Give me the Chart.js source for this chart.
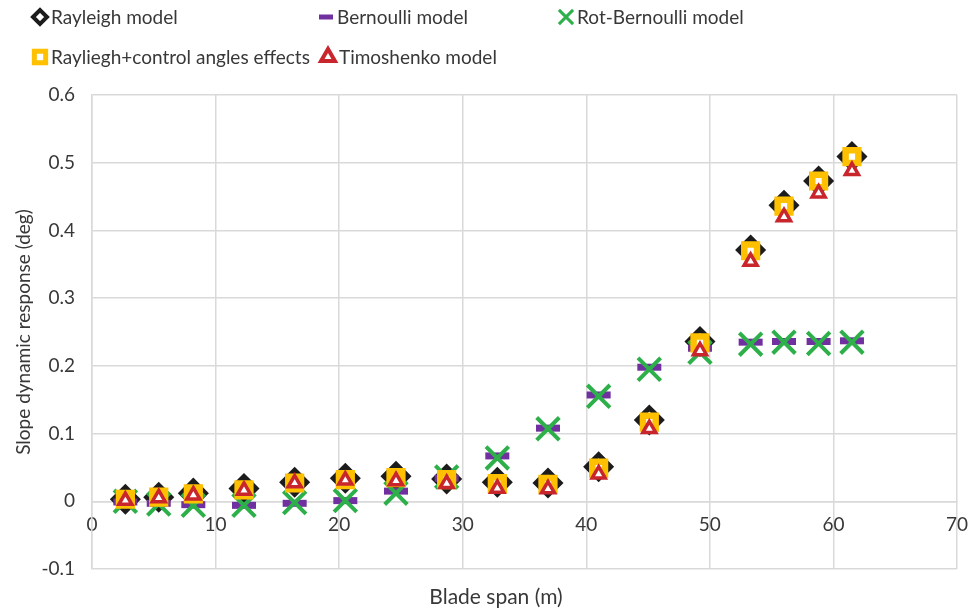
<!DOCTYPE html>
<html>
<head>
<meta charset="utf-8">
<script src="https://cdn.jsdelivr.net/npm/chart.js@4.4.1/dist/chart.umd.min.js"></script>
<style>
  body { margin: 0; background: #fff; }
  #wrap { width: 969px; height: 612px; }
</style>
</head>
<body>
<div id="wrap"><canvas id="chart_1" width="969" height="612"></canvas></div>
<script>
// blade span stations (m)
const span = [2.7, 5.4, 8.2, 12.3, 16.4, 20.5, 24.6, 28.7, 32.8, 36.9, 41.0, 45.1, 49.2, 53.3, 56.0, 58.8, 61.5];

// slope dynamic response (deg) for each model
const rayleigh = [0.003, 0.006, 0.012, 0.019, 0.028, 0.034, 0.037, 0.033, 0.028, 0.027, 0.051, 0.120, 0.236, 0.371, 0.437, 0.473, 0.509];
const bernoulli = [-0.001, -0.003, -0.005, -0.006, -0.003, 0.001, 0.015, 0.034, 0.067, 0.108, 0.157, 0.198, 0.226, 0.235, 0.236, 0.236, 0.237];
const rot_bernoulli = [0.000, -0.004, -0.006, -0.006, -0.002, 0.001, 0.012, 0.036, 0.064, 0.107, 0.155, 0.195, 0.220, 0.232, 0.235, 0.233, 0.235];
const rayleigh_control = [0.003, 0.006, 0.011, 0.017, 0.027, 0.032, 0.035, 0.032, 0.026, 0.025, 0.049, 0.117, 0.234, 0.370, 0.436, 0.473, 0.509];
const timoshenko = [0.001, 0.005, 0.009, 0.016, 0.027, 0.031, 0.030, 0.026, 0.019, 0.018, 0.040, 0.107, 0.222, 0.354, 0.420, 0.455, 0.488];

const series_labels = ["Rayleigh model", "Bernoulli model", "Rot-Bernoulli model", "Rayliegh+control angles effects", "Timoshenko model"];

const x_ticks = [0, 10, 20, 30, 40, 50, 60, 70];
const y_ticks = [-0.1, 0, 0.1, 0.2, 0.3, 0.4, 0.5, 0.6];

const font_family = "Lato, 'Noto Sans', sans-serif";
const text_color = "#383838";
const grid_color = "#d9d9d9";

function to_points(values) {
  return span.map((x, i) => ({x: x, y: values[i]}));
}

// marker look per series, used for plot and legend
const markers = [
  {pointStyle: "rectRot", radius: 12, borderWidth: 5, backgroundColor: "#ffffff", borderColor: "#1c1c1c"},
  {pointStyle: "line", radius: 12, borderWidth: 7, backgroundColor: "#7030a0", borderColor: "#7030a0"},
  {pointStyle: "crossRot", radius: 16, borderWidth: 4, backgroundColor: "#2db04a", borderColor: "#2db04a"},
  {pointStyle: "rect", radius: 9, borderWidth: 6.5, backgroundColor: "#ffffff", borderColor: "#ffc000"},
  {pointStyle: "triangle", radius: 7.5, borderWidth: 3.5, backgroundColor: "#ffffff", borderColor: "#c8262c"}
];
const legend_markers = [
  {pointStyle: "rectRot", radius: 7, borderWidth: 4},
  {pointStyle: "line", radius: 7, borderWidth: 5},
  {pointStyle: "crossRot", radius: 10, borderWidth: 3},
  {pointStyle: "rect", radius: 8, borderWidth: 5},
  {pointStyle: "triangle", radius: 8, borderWidth: 4}
];
const legend_pos = [[40, 17], [326, 17], [566, 17], [40, 57], [328, 57]];

const series_data = [rayleigh, bernoulli, rot_bernoulli, rayleigh_control, timoshenko];

const datasets = series_data.map((values, i) => ({
  label: series_labels[i],
  data: to_points(values),
  showLine: false,
  order: series_data.length - i,
  pointStyle: markers[i].pointStyle,
  pointRadius: markers[i].radius,
  pointHoverRadius: markers[i].radius,
  pointBorderWidth: markers[i].borderWidth,
  pointBackgroundColor: markers[i].backgroundColor,
  pointBorderColor: markers[i].borderColor
}));

// legend in fixed rows plus the horizontal axis title
const legend_plugin = {
  id: "fixed_legend",
  afterDraw(chart) {
    const ctx = chart.ctx;
    ctx.save();
    ctx.font = `19px ${font_family}`;
    ctx.textBaseline = "middle";
    ctx.textAlign = "left";
    for (let i = 0; i < series_labels.length; i++) {
      const [x, y] = legend_pos[i];
      const m = legend_markers[i];
      ctx.fillStyle = markers[i].backgroundColor;
      ctx.strokeStyle = markers[i].borderColor;
      ctx.lineWidth = m.borderWidth;
      Chart.helpers.drawPoint(ctx, {pointStyle: m.pointStyle, radius: m.radius, borderWidth: m.borderWidth, rotation: 0}, x, y);
      ctx.fillStyle = text_color;
      ctx.fillText(series_labels[i], x + 11, y + 1);
    }
    ctx.font = `21px ${font_family}`;
    ctx.textAlign = "center";
    ctx.fillText("Blade span (m)", 496, 597);
    ctx.restore();
  }
};

const ctx = document.getElementById("chart_1").getContext("2d");
const chart = new Chart(ctx, {
  type: "scatter",
  data: {datasets: datasets},
  plugins: [legend_plugin],
  options: {
    responsive: false,
    animation: false,
    events: [],
    layout: {autoPadding: false, padding: {top: 95, right: 0, left: 0, bottom: 43}},
    plugins: {
      legend: {display: false},
      tooltip: {enabled: false}
    },
    scales: {
      x: {
        type: "linear",
        min: 0,
        max: 70,
        position: {y: 0},
        afterBuildTicks: scale => { scale.ticks = x_ticks.map(v => ({value: v})); },
        afterFit: scale => { scale.paddingLeft = 0; scale.paddingRight = 12; },
        grid: {color: grid_color, lineWidth: 1.5, drawTicks: false},
        border: {color: grid_color, width: 1.5},
        ticks: {color: text_color, padding: 12, font: {family: font_family, size: 19}, maxRotation: 0}
      },
      y: {
        min: -0.1,
        max: 0.6,
        afterBuildTicks: scale => { scale.ticks = y_ticks.map(v => ({value: v})); },
        afterFit: scale => { scale.width = 92; },
        grid: {color: grid_color, lineWidth: 1.5, drawTicks: false},
        border: {color: grid_color, width: 1.5},
        ticks: {
          color: text_color,
          padding: 17,
          font: {family: font_family, size: 19},
          callback: v => String(Math.round(v * 10) / 10)
        },
        title: {display: true, text: "Slope dynamic response (deg)", color: text_color, padding: {top: 12, bottom: 0}, font: {family: font_family, size: 19}}
      }
    }
  }
});
</script>
</body>
</html>
